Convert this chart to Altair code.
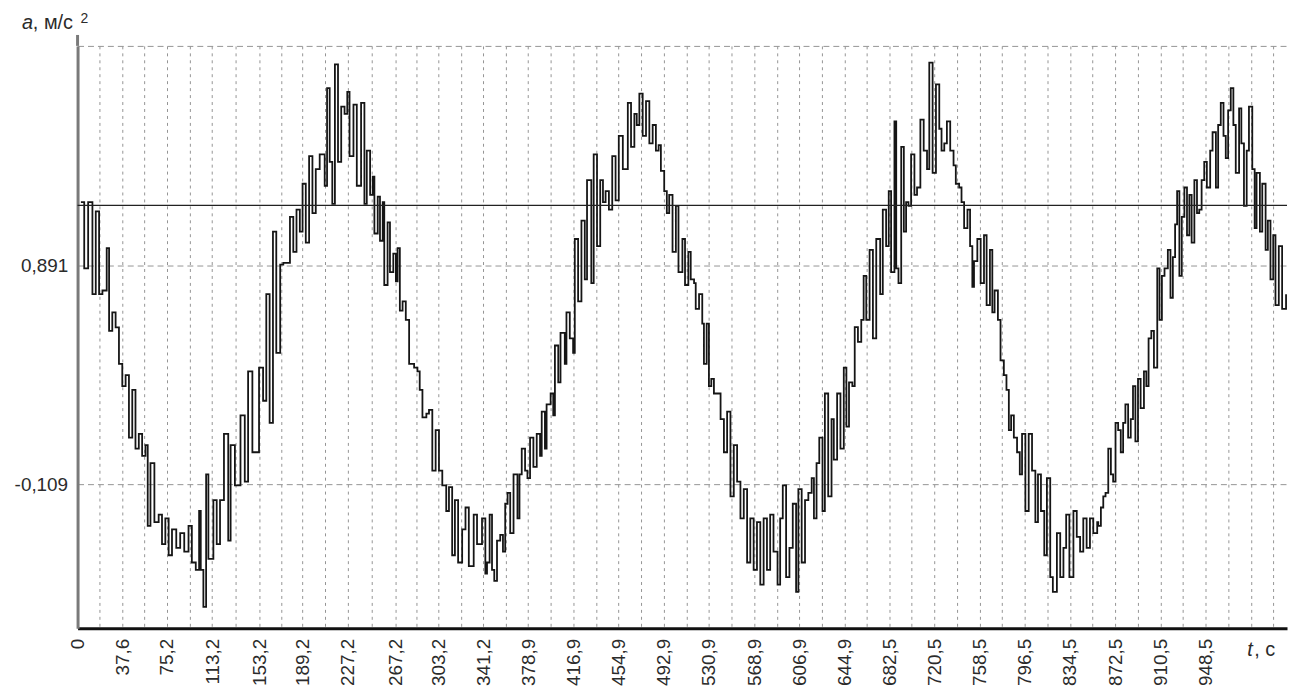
import json
import altair as alt
import pandas as pd

# ---- signal (t in s, a in m/s^2), by strip ----
t_s1 = [2.8,5.6,8.9,12.5,15.3,18.1,20.9,24.5,26.5,29.2,32.0,34.8,37.6,40.4,43.2,46.0,48.7,51.5,54.3,57.1,
        59.0,61.3,64.6,68.2,71.0,73.8,76.6,79.4,83.0,86.3,89.7,93.3,96.1,99.4,102.2,103.6,105.8,108.1,110.0,114.2,
        117.0,119.8,123.1,126.7,128.7,132.3,137.0,140.6,143.4,147.0,152.6,156.0,158.7,161.5,164.3,167.1,170.4]
a_s1 = [1.178,0.876,1.178,0.758,1.136,0.758,0.775,0.968,0.591,0.675,0.607,0.440,0.339,0.389,0.104,0.322,0.054,0.121,0.020,0.070,
        -0.299,-0.013,-0.282,-0.248,-0.382,-0.265,-0.433,-0.315,-0.399,-0.332,-0.416,-0.299,-0.466,-0.500,-0.231,-0.500,-0.668,-0.064,-0.449,-0.181,
        -0.382,-0.181,0.121,-0.366,0.070,-0.114,0.205,-0.097,0.406,0.037,0.423,0.272,0.758,0.171,1.044,0.490,0.893]

t_s2 = [173.0,177.2,178.6,181.4,184.1,186.9,189.2,191.9,194.7,197.5,200.3,203.6,207.8,209.8,212.0,214.2,216.4,219.0,221.7,224.5,
        226.8,228.7,232.0,234.8,238.4,241.2,243.2,246.0,248.2,249.6,252.4,254.3,256.6,257.9,260.7,262.7,265.5,267.7,269.1,271.0,
        273.3,276.0,278.8,283.0,285.8,287.7,290.0,293.3,295.5,298.3,301.1,303.9,306.7,310.0,312.3,315.0,317.3,320.0,323.4,326.2,
        329.0,333.1,335.9,340.1,342.9]
a_s2 = [0.901,0.901,1.111,0.951,1.144,1.044,1.262,0.993,1.388,1.128,1.329,1.396,1.253,1.698,1.362,1.170,1.807,1.362,1.614,1.581,
        1.681,1.388,1.623,1.253,1.631,1.170,1.413,1.211,1.295,1.035,1.203,1.002,1.178,0.800,1.086,0.859,0.943,0.817,0.968,0.683,
        0.725,0.641,0.440,0.423,0.406,0.322,0.196,0.213,0.230,-0.047,0.138,-0.047,-0.114,-0.231,-0.122,-0.433,-0.181,-0.466,-0.315,-0.215,
        -0.483,-0.248,-0.382,-0.265,-0.517]

t_s3 = [344.3,346.5,348.5,350.4,352.7,355.4,357.7,359.6,361.6,363.8,366.6,369.9,371.6,373.5,376.3,378.3,380.5,383.3,386.1,388.9,
        390.3,393.0,394.4,397.8,400.0,401.4,404.2,406.1,409.7,411.1,413.9,416.7,418.1,420.9,423.7,426.5,428.4,432.0,434.0,436.8,
        439.5,441.8,444.0,446.8,449.6,452.4,455.1,458.5,462.7,465.4,468.2,470.2,472.4,475.2,478.0,480.8,483.6,486.3,488.6,490.5,
        493.3,495.5,497.5,500.3,503.1,505.3,508.6,510.8,513.6,515.6]
a_s3 = [-0.466,-0.248,-0.500,-0.550,-0.366,-0.340,-0.416,-0.198,-0.148,-0.332,-0.064,-0.265,-0.064,0.054,-0.047,-0.081,0.104,-0.030,0.121,0.020,
        0.222,0.054,0.255,0.305,0.205,0.524,0.356,0.582,0.440,0.675,0.557,0.490,1.010,0.725,1.094,0.826,1.279,0.809,1.396,0.977,
        1.279,1.178,1.228,1.144,1.388,1.186,1.480,1.329,1.631,1.430,1.581,1.530,1.673,1.480,1.639,1.446,1.530,1.413,1.438,1.321,
        1.228,1.128,1.211,0.951,1.161,0.859,1.010,0.800,0.951,0.826]

t_s4 = [518.4,519.8,522.6,525.3,526.7,529.0,530.9,532.9,535.1,537.9,540.7,543.5,546.2,549.0,551.8,554.6,557.4,560.2,563.0,565.7,
        568.5,571.3,574.1,576.9,579.7,582.4,585.2,588.6,590.8,593.0,595.8,598.6,601.4,604.2,606.1,608.9,611.7,614.5,617.3,619.2,
        621.4,623.7,626.4,628.4,631.2,634.0,635.9,638.7,641.5,644.3,646.5,648.7,651.5,653.5,656.2,659.0,661.0,663.2,666.0,668.8,
        671.6,674.9,677.1,679.9,682.1,684.1,686.9]
a_s4 = [0.809,0.691,0.758,0.624,0.440,0.624,0.339,0.372,0.305,0.305,0.188,0.037,0.222,-0.164,0.070,-0.097,-0.265,-0.131,-0.466,-0.265,
        -0.500,-0.282,-0.567,-0.265,-0.500,-0.248,-0.416,-0.567,-0.265,-0.114,-0.533,-0.399,-0.198,-0.600,-0.131,-0.466,-0.181,-0.148,-0.081,-0.265,
        -0.013,0.104,-0.231,0.305,-0.164,0.188,0.003,0.305,0.054,0.423,0.154,0.356,0.339,0.608,0.541,0.641,0.842,0.641,0.960,0.557,
        1.010,0.758,1.144,0.977,1.228,0.859,1.547]

t_s5 = [688.4,690.3,692.6,694.8,696.7,698.7,700.9,703.7,705.9,708.7,711.5,714.3,716.2,719.0,721.8,724.6,726.5,728.8,731.0,733.8,
        736.6,738.5,741.3,743.3,745.5,748.3,750.5,752.4,753.8,756.6,759.4,762.2,764.4,767.2,769.2,771.1,773.9,776.1,778.9,781.1,
        783.1,785.0,787.3,790.0,792.3,794.2,797.0,799.8,802.6,805.4,807.6,810.1,812.9,815.1,817.9,820.1,823.5,826.3,829.0,831.3,
        834.0,837.4,840.2,843.0,845.7,848.5,851.3,854.1,857.4]
a_s5 = [0.876,0.809,1.430,1.044,1.178,1.161,1.396,1.211,1.245,1.555,1.413,1.329,1.815,1.312,1.715,1.513,1.413,1.446,1.547,1.413,
        1.346,1.262,1.245,1.178,1.060,1.144,0.977,0.792,0.909,1.010,0.809,1.027,0.708,0.960,0.675,0.775,0.641,0.456,0.389,0.322,
        0.138,0.205,0.104,0.037,-0.064,0.121,-0.231,0.121,-0.047,-0.282,-0.064,-0.231,-0.433,-0.081,-0.533,-0.600,-0.332,-0.533,-0.399,-0.248,
        -0.533,-0.231,-0.349,-0.416,-0.265,-0.399,-0.265,-0.332,-0.282]

t_s6 = [858.3,860.5,862.5,864.4,866.7,868.9,870.8,872.8,875.0,877.2,879.2,881.1,883.4,885.6,887.5,889.5,891.7,893.9,896.7,898.7,
        900.6,902.9,905.1,907.9,909.8,911.8,914.0,916.8,919.0,921.0,922.9,924.6,926.5,928.5,930.7,932.9,934.9,936.8,939.1,941.3,
        943.2,945.2,947.4,949.6,952.4,954.4,957.2,959.1,961.3,963.6,965.5,967.5,969.7,971.9,973.9,976.7,978.6,980.8,983.1,985.0,
        987.8,989.8,991.4,994.2,996.2,999.0,1000.9,1003.1,1005.4,1007.3,1010.1,1012.9,1016.2]
a_s6 = [-0.299,-0.215,-0.164,-0.148,0.054,-0.064,-0.097,0.171,0.138,0.037,0.171,0.255,0.104,0.188,0.339,0.087,0.372,0.238,0.406,0.339,
        0.557,0.591,0.423,0.876,0.641,0.842,0.876,0.960,0.742,0.927,1.077,1.228,0.842,1.111,1.245,1.027,1.211,0.993,1.279,1.128,
        1.144,1.279,1.362,1.245,1.413,1.497,1.245,1.530,1.631,1.480,1.379,1.597,1.698,1.530,1.312,1.606,1.446,1.161,1.413,1.614,
        1.329,1.060,1.312,1.044,1.262,0.960,1.094,0.826,1.027,0.708,0.977,0.691,0.758]

# ---- axes ----
x_label_values = [0, 37.6, 75.2, 113.2, 153.2, 189.2, 227.2, 267.2, 303.2, 341.2, 378.9, 416.9, 454.9,
                  492.9, 530.9, 568.9, 606.9, 644.9, 682.5, 720.5, 758.5, 796.5, 834.5, 872.5, 910.5, 948.5]
x_label_texts = ["0", "37,6", "75,2", "113,2", "153,2", "189,2", "227,2", "267,2", "303,2", "341,2", "378,9",
                 "416,9", "454,9", "492,9", "530,9", "568,9", "606,9", "644,9", "682,5", "720,5", "758,5",
                 "796,5", "834,5", "872,5", "910,5", "948,5"]
x_mid_grid = [18.8, 56.4, 94.2, 133.2, 171.2, 208.2, 247.2, 285.2, 322.2, 360.1, 397.9, 435.9, 473.9,
              511.9, 549.9, 587.9, 625.9, 663.7, 701.5, 739.5, 777.5, 815.5, 853.5, 891.5, 929.5,
              967.5, 986.5, 1005.5]
y_label_values = [-0.109, 0.891, 1.891]
y_label_texts = ["-0,109", "0,891", ""]
ref_level = 1.163
x_domain = [0, 1017]
y_domain = [-0.766, 1.891]

t_all, a_all = [], []
for ts, as_ in [(t_s1, a_s1), (t_s2, a_s2), (t_s3, a_s3), (t_s4, a_s4), (t_s5, a_s5), (t_s6, a_s6)]:
    n = min(len(ts), len(as_))
    t_all += ts[:n]
    a_all += as_[:n]
df = pd.DataFrame({"t": t_all, "a": a_all})

FONT = "Liberation Sans"
TXT = "#2b2b2b"

x_grid = sorted(x_label_values + x_mid_grid)
xv = json.dumps(x_label_values)
xt = json.dumps(x_label_texts, ensure_ascii=False)
x_expr = f"indexof({xv}, datum.value) >= 0 ? {xt}[indexof({xv}, datum.value)] : ''"
yv = json.dumps(y_label_values)
yt = json.dumps(y_label_texts, ensure_ascii=False)
y_expr = f"indexof({yv}, datum.value) >= 0 ? {yt}[indexof({yv}, datum.value)] : ''"

x_axis = alt.Axis(values=x_grid, labelExpr=x_expr, labelAngle=270, labelAlign="right",
                  labelBaseline="middle", labelPadding=10, labelFontSize=19, labelFont=FONT,
                  labelColor=TXT, labelOverlap=False, labelFlush=False, labelBound=False,
                  ticks=False, grid=True, gridDash=[3, 4], gridColor="#949494", gridWidth=1,
                  domainColor="#111111", domainWidth=3, title=None)
y_axis = alt.Axis(values=y_label_values, labelExpr=y_expr, labelFontSize=19, labelFont=FONT,
                  labelColor=TXT, labelPadding=10, labelOverlap=False, labelFlush=False,
                  ticks=False, grid=True, gridDash=[6, 4], gridColor="#949494", gridWidth=1,
                  domainColor="#7a7a7a", domainWidth=3, title=None)

line = alt.Chart(df).mark_line(interpolate="step-after", color="#151515", strokeWidth=1.8, clip=True).encode(
    x=alt.X("t:Q", scale=alt.Scale(domain=x_domain, nice=False, zero=False), axis=x_axis),
    y=alt.Y("a:Q", scale=alt.Scale(domain=y_domain, nice=False, zero=False), axis=y_axis),
)

ref = alt.Chart(pd.DataFrame({"k": [0]})).mark_rule(color="#222222", strokeWidth=1.3).encode(
    y=alt.datum(ref_level)
)

axis_ext = alt.Chart(pd.DataFrame({"k": [0]})).mark_rule(color="#7a7a7a", strokeWidth=3).encode(
    x=alt.value(0), y=alt.value(-11), y2=alt.value(0)
)

def label(text, x, y, size=20, italic=False):
    return alt.Chart(pd.DataFrame({"s": [text]})).mark_text(
        align="left", baseline="alphabetic", font=FONT, fontSize=size, color=TXT,
        fontStyle="italic" if italic else "normal"
    ).encode(x=alt.value(x), y=alt.value(y), text="s:N")

titles = [
    label("a", -56, -17, italic=True),
    label(", м/с", -45, -17),
    label("2", 3, -23, size=14),
    label("t", 1177, 614, italic=True),
    label(", c", 1184, 614),
]

chart = alt.layer(line, ref, axis_ext, *titles).properties(
    width=1217, height=586,
    autosize=alt.AutoSizeParams(type="none"),
    padding={"left": 70, "top": 36, "right": 1, "bottom": 60},
    background="white",
).configure_view(stroke=None)

chart.save("out.html", embed_options={"renderer": "svg", "actions": False})
